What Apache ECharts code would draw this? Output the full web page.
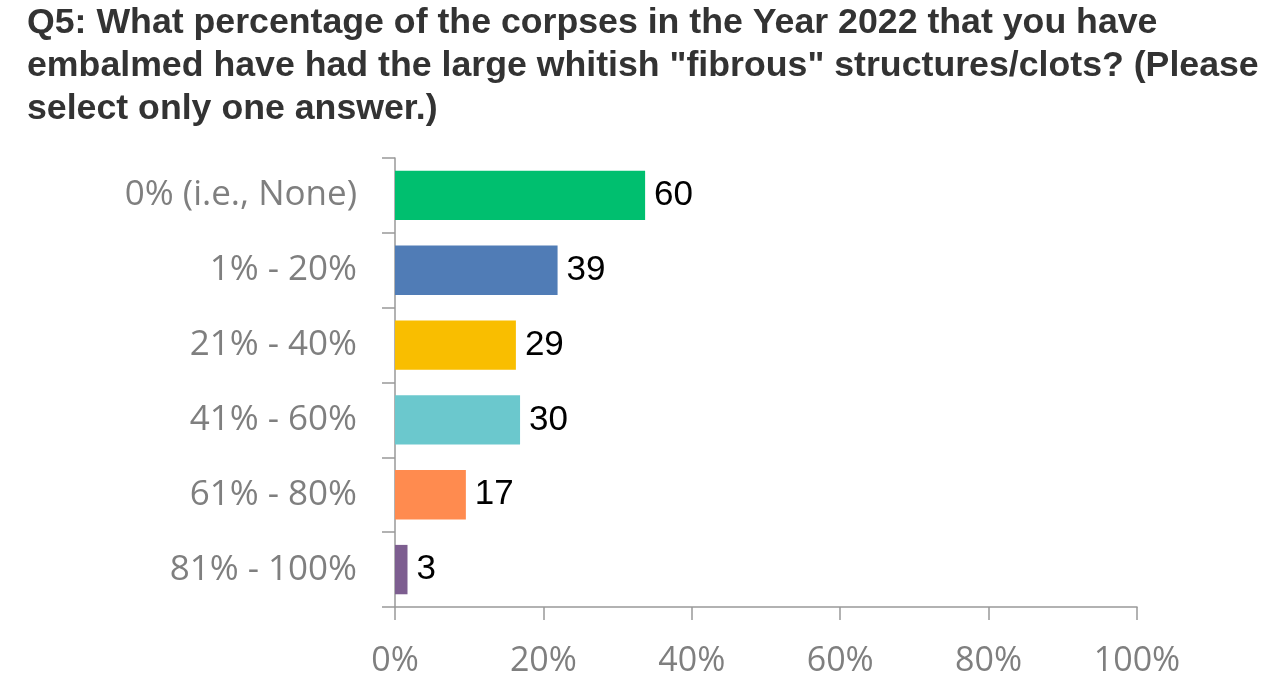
<!DOCTYPE html>
<html>
<head>
<meta charset="utf-8">
<title>Q5 chart</title>
<script src="https://cdn.jsdelivr.net/npm/echarts@6/dist/echarts.min.js"></script>
<style>
	html, body { margin: 0; padding: 0; background: #fff; }
	#chart { width: 1280px; height: 699px; }
</style>
</head>
<body>
<div id="chart"></div>
<script>
"use strict";

/*-----data-----*/
var categories = ['0% (i.e., None)', '1% - 20%', '21% - 40%', '41% - 60%', '61% - 80%', '81% - 100%'];
var counts = [60, 39, 29, 30, 17, 3];
var barColors = ['#00bf6f', '#507cb6', '#f9be00', '#6bc8cd', '#ff8b4f', '#7d5e90'];
var titleLines = [
	'Q5: What percentage of the corpses in the Year 2022 that you have',
	'embalmed have had the large whitish "fibrous" structures/clots? (Please',
	'select only one answer.)'
];

var total = counts.reduce(function (a, b) { return a + b; }, 0);
var shares = counts.map(function (c, i) {
	return { value: c / total * 100, count: c, itemStyle: { color: barColors[i] } };
});

/*-----chart-----*/
var chart = echarts.init(document.getElementById('chart'));
var option = {
	animation: false,
	title: {
		text: titleLines.join('\n'),
		left: 27,
		top: 2,
		padding: 0,
		textStyle: {
			fontFamily: 'Liberation Sans, Arial, sans-serif',
			fontSize: 35.7,
			fontWeight: 'bold',
			color: '#333333',
			lineHeight: 43
		}
	},
	grid: {
		left: 395,
		right: 143,
		top: 158,
		bottom: 92,
		containLabel: false
	},
	xAxis: {
		type: 'value',
		min: 0,
		max: 100,
		interval: 20,
		splitLine: { show: false },
		axisLine: { show: true, lineStyle: { color: '#999999', width: 1.5 } },
		axisTick: { show: true, length: 13, lineStyle: { color: '#999999', width: 1.5 } },
		axisLabel: {
			formatter: '{value}%',
			fontFamily: 'Open Sans, sans-serif',
			fontSize: 34,
			color: '#7f7f7f',
			margin: 37
		}
	},
	yAxis: {
		type: 'category',
		data: categories,
		inverse: true,
		axisLine: { show: true, lineStyle: { color: '#999999', width: 1.5 } },
		axisTick: { show: true, length: 13, alignWithLabel: false, lineStyle: { color: '#999999', width: 1.5 } },
		axisLabel: {
			fontFamily: 'Open Sans, sans-serif',
			fontSize: 35,
			color: '#7f7f7f',
			margin: 38
		}
	},
	series: [{
		type: 'bar',
		data: shares,
		barWidth: '66%',
		label: {
			show: true,
			position: 'right',
			distance: 9,
			formatter: function (p) { return p.data.count; },
			fontFamily: 'Liberation Sans, Arial, sans-serif',
			fontSize: 35,
			color: '#000000'
		}
	}]
};
chart.setOption(option);
window.addEventListener('resize', function () {
	chart.resize();
});
</script>
</body>
</html>
